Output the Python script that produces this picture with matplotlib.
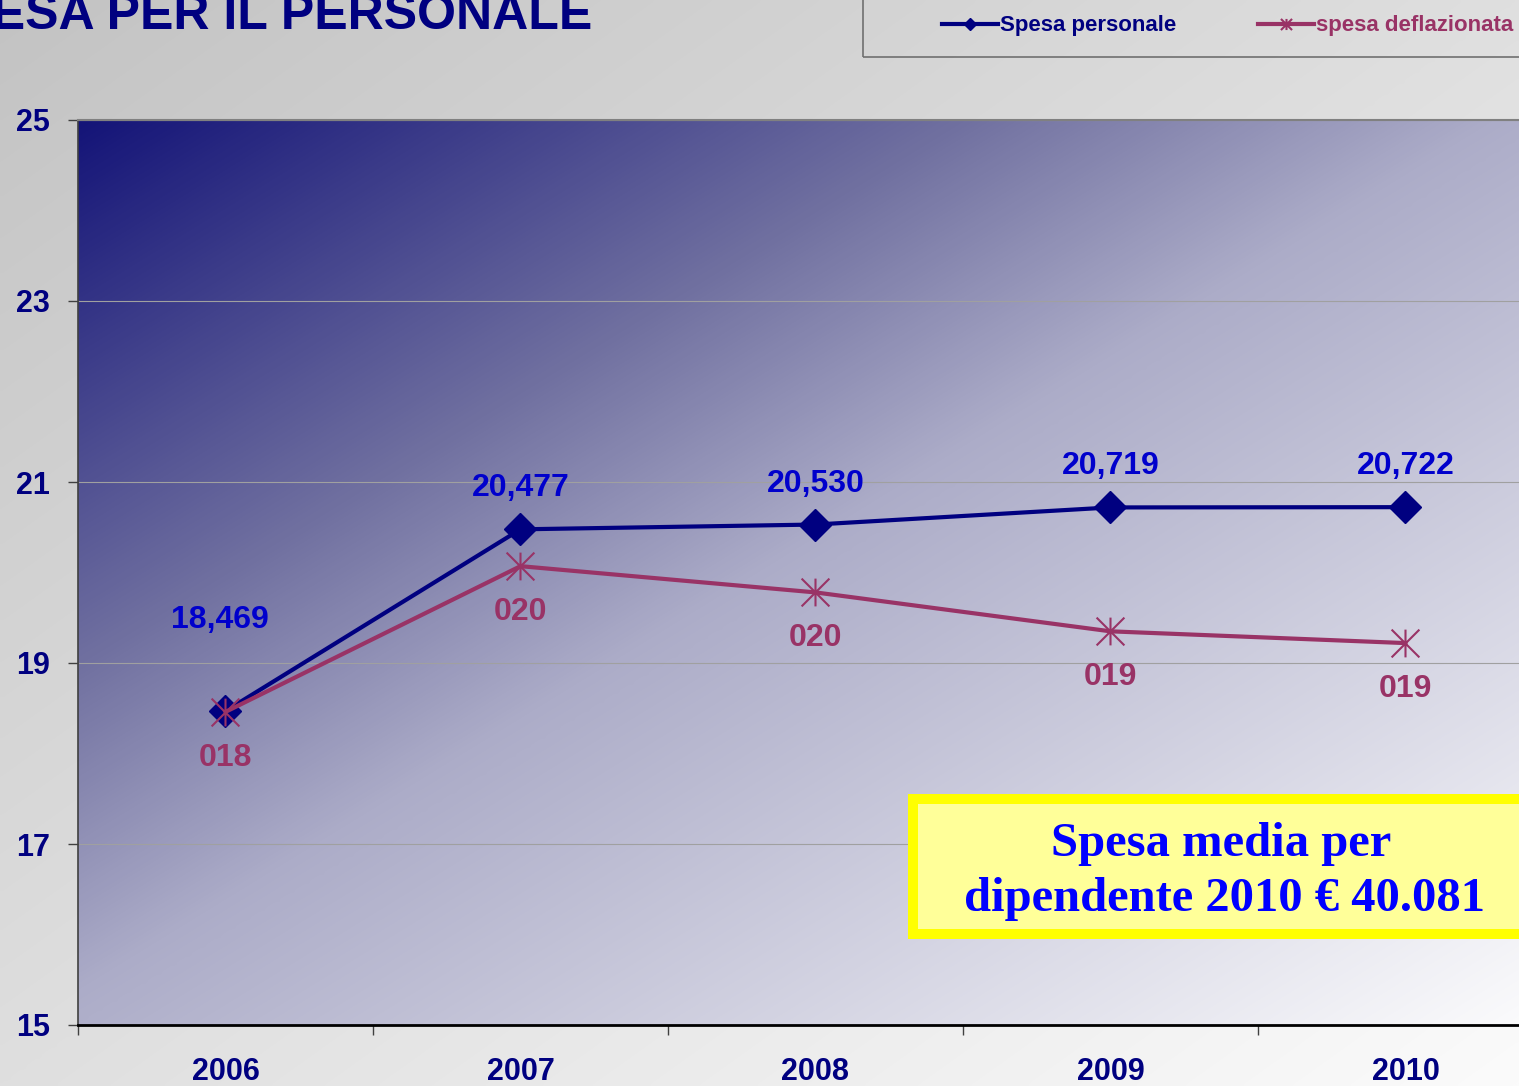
import numpy as np
import matplotlib.pyplot as plt
from matplotlib.colors import LinearSegmentedColormap
from matplotlib.patches import Rectangle
from matplotlib.path import Path

# data
years = ['2006', '2007', '2008', '2009', '2010']
spesa_personale = [18.469, 20.477, 20.530, 20.719, 20.722]
spesa_deflazionata = [18.46, 20.07, 19.78, 19.35, 19.22]
labels_personale = ['18,469', '20,477', '20,530', '20,719', '20,722']
labels_deflazionata = ['018', '020', '020', '019', '019']
y_ticks = [15, 17, 19, 21, 23, 25]

W, H = 1519, 1086
NAVY = '#000080'
PLUM = '#993366'

plt.rcParams['font.family'] = ['Liberation Sans', 'DejaVu Sans']
plt.rcParams['font.weight'] = 'bold'

fig = plt.figure(figsize=(W / 100, H / 100), dpi=100)


def fx(px):
    return px / W


def fy(py):
    return 1 - py / H


def diag_gradient(n=400):
    u = np.linspace(0, 1, n)
    uu, vv = np.meshgrid(u, u)
    return (uu + vv) / 2


# grey slide background
bg = fig.add_axes([0, 0, 1, 1], zorder=-1)
bg.axis('off')
bg_cmap = LinearSegmentedColormap.from_list('bg', ['#c3c3c3', '#fbfbfb'])
bg.imshow(diag_gradient(), cmap=bg_cmap, extent=(0, 1, 0, 1), aspect='auto',
          interpolation='bicubic')
bg.set_xlim(0, 1)
bg.set_ylim(0, 1)

# plot area (runs past the right edge of the picture)
ax = fig.add_axes([fx(78), fy(1025), fx(1553) - fx(78), (1025 - 120) / H])
ax.patch.set_visible(False)
plot_cmap = LinearSegmentedColormap.from_list(
    'plot', [(0, '#141478'), (0.3, '#7070a0'), (0.48, '#acacc8'), (1, '#fcfcfd')])
ax.imshow(diag_gradient(), cmap=plot_cmap, extent=(0, 1, 0, 1),
          transform=ax.transAxes, aspect='auto', zorder=0, interpolation='bicubic')

x = np.arange(len(years))
asterisk = Path([(-1, -1), (1, 1), (-1, 1), (1, -1), (0, -1), (0, 1)],
                [Path.MOVETO, Path.LINETO, Path.MOVETO, Path.LINETO, Path.MOVETO, Path.LINETO])

l1, = ax.plot(x, spesa_personale, color=NAVY, lw=3, marker='D', ms=16,
              zorder=3, label='Spesa personale')
l2, = ax.plot(x, spesa_deflazionata, color=PLUM, lw=3, marker=asterisk, ms=20,
              mew=1.5, mfc='none', mec=PLUM, zorder=4, label='spesa deflazionata')

for i in range(len(years)):
    off = (-6, 91) if i == 0 else (0, 41)
    ax.annotate(labels_personale[i], (x[i], spesa_personale[i]), xytext=off,
                textcoords='offset pixels', ha='center', va='center',
                color='#0000cc', fontsize=23, zorder=5)
    ax.annotate(labels_deflazionata[i], (x[i], spesa_deflazionata[i]), xytext=(0, -46),
                textcoords='offset pixels', ha='center', va='center',
                color=PLUM, fontsize=23, zorder=5)

ax.set_xlim(-0.5, 4.5)
ax.set_ylim(15, 25)
ax.set_yticks(y_ticks)
ax.tick_params(axis='y', direction='out', length=7, width=1, color='#404040',
               pad=13, labelsize=22, labelcolor=NAVY)
ax.set_xticks(x, years)
ax.tick_params(axis='x', which='major', length=0, pad=23, labelsize=22, labelcolor=NAVY)
ax.set_xticks(np.arange(-0.5, 4.6, 1), minor=True)
ax.tick_params(axis='x', which='minor', direction='out', length=7, width=1, color='#404040')
ax.grid(axis='y', color='#a0a0a0', lw=0.8)

ax.spines['right'].set_visible(False)
ax.spines['top'].set_color('#808080')
ax.spines['top'].set_linewidth(1.5)
ax.spines['left'].set_color('#404040')
ax.spines['left'].set_linewidth(1.2)
ax.spines['bottom'].set_color('black')
ax.spines['bottom'].set_linewidth(2)

# title, cut by the top-left corner
fig.text(fx(592), fy(29), 'SPESA PER IL PERSONALE', ha='right', va='baseline',
         fontsize=36, color=NAVY, fontweight='bold')

# legend with its box running off the corner
fig.add_artist(Rectangle((fx(863), fy(57)), fx(1540) - fx(863), 57 / H + 0.02,
                         transform=fig.transFigure, fill=False, ec='#707070', lw=1.2))
fig.legend(handles=[l1, l2], loc='center left', bbox_to_anchor=(fx(942), fy(26)),
           ncol=2, frameon=False, fontsize=16, handlelength=2.5, handletextpad=0.1,
           columnspacing=3.7, borderpad=0, borderaxespad=0, markerscale=0.4,
           labelcolor=[NAVY, PLUM])

# yellow note box
fig.add_artist(Rectangle((fx(913), fy(934)), fx(1545) - fx(913), (934 - 799) / H,
                         transform=fig.transFigure, fc='#ffff99', ec='#ffff00',
                         lw=7.2, zorder=5))
serif = ['Liberation Serif', 'DejaVu Serif']
fig.text(fx(1221), fy(856), 'Spesa media per', ha='center', va='baseline',
         fontsize=35, family=serif, fontweight='bold', color='#0000ff', zorder=6)
fig.text(fx(1225), fy(911), 'dipendente 2010 € 40.081', ha='center', va='baseline',
         fontsize=35, family=serif, fontweight='bold', color='#0000ff', zorder=6)

fig.savefig('out.png', dpi=100)
